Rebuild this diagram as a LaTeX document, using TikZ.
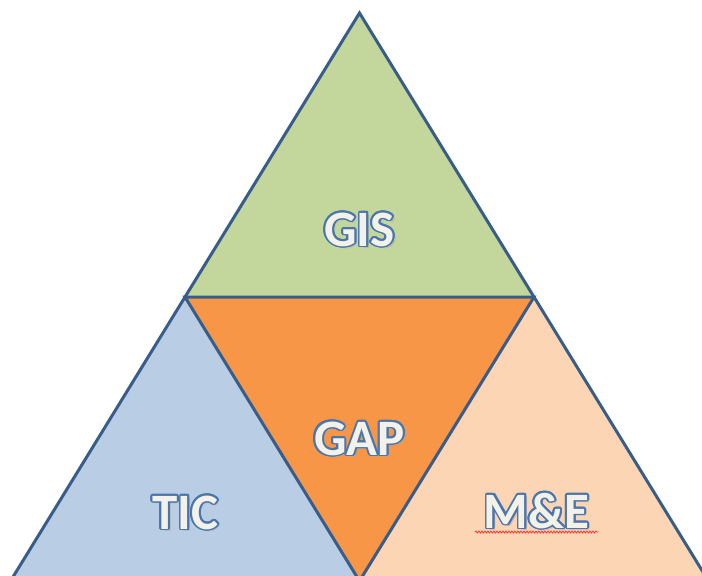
\documentclass[tikz,border=0pt]{standalone}
\usepackage{fontspec}
\setmainfont{Carlito}
\usepackage[copies]{contour}
\usetikzlibrary{decorations.pathmorphing}
\definecolor{gisgreen}{HTML}{C3D69B}
\definecolor{gaporange}{HTML}{F79646}
\definecolor{ticblue}{HTML}{B9CDE5}
\definecolor{mepeach}{HTML}{FCD5B5}
\definecolor{edgeblue}{HTML}{385D8A}
\definecolor{txtfill}{HTML}{F4F2E8}
\definecolor{txtline}{HTML}{4A76AE}
\contourlength{1.8pt}
\newcommand{\fancytxt}[1]{\contour{txtline}{\textcolor{txtfill}{#1}}}
\tikzset{
  tri/.style={draw=edgeblue, line width=3pt, line join=miter},
  lbl/.style={anchor=base, inner sep=0pt, font=\fontsize{51}{60}\selectfont\bfseries},
  shad/.style={anchor=base, inner sep=0pt, font=\fontsize{51}{60}\selectfont\bfseries, text=black!35, opacity=0.45},
}
\begin{document}
\begin{tikzpicture}[x=1pt,y=-1pt]
\useasboundingbox (0,0) rectangle (702,576);
\clip (0,0) rectangle (702,576);
\coordinate (A) at (359.5,13);
\coordinate (L) at (185,297);
\coordinate (R) at (534,297);
\coordinate (B) at (359.5,581);
\coordinate (BL) at (10.5,581);
\coordinate (BR) at (708.5,581);
\fill[gisgreen] (A) -- (L) -- (R) -- cycle;
\fill[gaporange] (L) -- (R) -- (B) -- cycle;
\fill[ticblue] (L) -- (B) -- (BL) -- cycle;
\fill[mepeach] (R) -- (B) -- (BR) -- cycle;
\draw[tri] (A) -- (BL) -- (BR) -- cycle;
\draw[tri] (L) -- (R) -- (B) -- cycle;
% shadows
\node[shad] at (362,248.5) {GIS};
\node[shad] at (362,457.5) {GAP};
\node[shad] at (188,531.5) {TIC};
\node[shad] at (539,530.5) {M\&E};
\node[lbl] (gis) at (359.5,246) {\fancytxt{GIS}};
\node[lbl] (gap) at (359.5,455) {\fancytxt{GAP}};
\node[lbl] (tic) at (185.5,529) {\fancytxt{TIC}};
\node[lbl] (me) at (536.5,528) {\fancytxt{M\&E}};
\draw[red!80, line width=0.8pt, decorate, decoration={snake, amplitude=1pt, segment length=3pt}] (475,532) -- (598,532);
\end{tikzpicture}
\end{document}
